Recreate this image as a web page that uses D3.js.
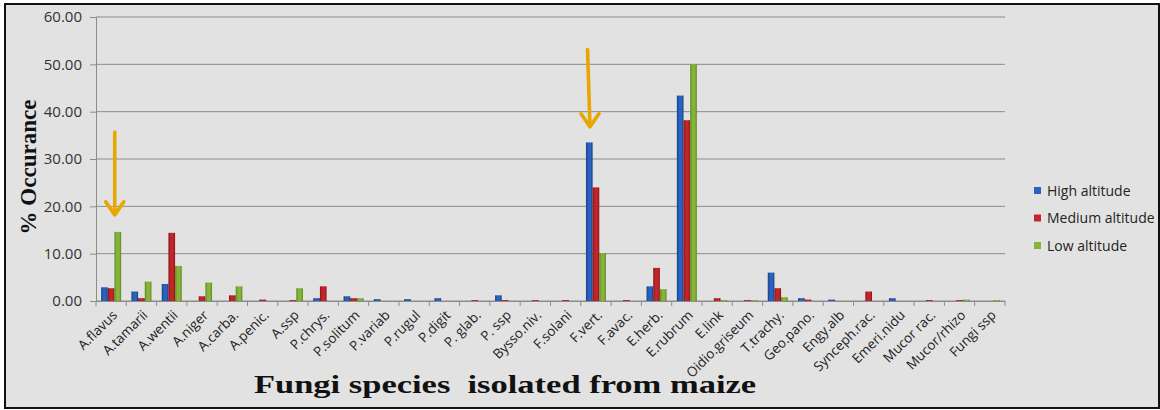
<!DOCTYPE html>
<html>
<head>
<meta charset="utf-8">
<script src="https://cdn.jsdelivr.net/npm/d3@7"></script>
<style>
  html, body { margin: 0; padding: 0; background: #fff; }
  svg { display: block; }
</style>
</head>
<body>
<div id="chart"></div>
<script>
const categories = ['A.flavus', 'A.tamarii', 'A.wentii', 'A.niger', 'A.carba.', 'A.penic.', 'A.ssp', 'P.chrys.',
  'P.solitum', 'P.variab', 'P.rugul', 'P.digit', 'P. glab.', 'P. ssp', 'Bysso.niv.', 'F.solani', 'F.vert.',
  'F.avac.', 'E.herb.', 'E.rubrum', 'E.link', 'Oidio.griseum', 'T.trachy.', 'Geo.pano.', 'Engy.alb',
  'Synceph.rac.', 'Emeri.nidu', 'Mucor rac.', 'Mucor/rhizo', 'Fungi ssp'];

const highAltitude = [2.9, 2.0, 3.6, 0, 0, 0, 0, 0.6, 1.0, 0.4, 0.4, 0.6, 0, 1.2, 0, 0, 33.5,
  0, 3.1, 43.4, 0, 0, 6.0, 0.6, 0.3, 0, 0.6, 0, 0, 0];
const mediumAltitude = [2.7, 0.6, 14.4, 1.0, 1.2, 0.3, 0.2, 3.1, 0.6, 0, 0, 0, 0.2, 0.2, 0.2, 0.2, 24.0,
  0.2, 7.0, 38.2, 0.6, 0.2, 2.7, 0.3, 0, 2.0, 0, 0.2, 0.2, 0];
const lowAltitude = [14.6, 4.1, 7.4, 3.9, 3.1, 0, 2.7, 0, 0.6, 0, 0, 0, 0, 0, 0, 0, 10.1,
  0, 2.5, 50.0, 0.2, 0.2, 0.8, 0, 0, 0, 0, 0, 0.3, 0.2];

const seriesNames = ['High altitude', 'Medium altitude', 'Low altitude'];
const yTicks = [0, 10, 20, 30, 40, 50, 60];

// arrows in the picture: category, value at tail, value at tip
const arrowNotes = [
  { category: 'A.flavus', from: 35.7, to: 18.2, dxFrom: 0.68, dxTo: 0.68 },
  { category: 'F.vert.', from: 53.1, to: 36.8, dxFrom: 0.08, dxTo: 0.2 }
];

const width = 1160, height = 410;
const margin = { top: 17, right: 155, bottom: 109, left: 96 };
const colors = ['#2a62bd', '#c2262a', '#86b439'];
const edgeColors = ['#16418a', '#8a1418', '#5c8a24'];

const svg = d3.select('#chart').append('svg')
  .attr('width', width)
  .attr('height', height);

const defs = svg.append('defs');
colors.forEach((c, i) => {
  const g = defs.append('linearGradient').attr('id', 'grad' + i)
    .attr('x1', '0%').attr('x2', '100%').attr('y1', '0%').attr('y2', '0%');
  g.append('stop').attr('offset', '0%').attr('stop-color', edgeColors[i]);
  g.append('stop').attr('offset', '35%').attr('stop-color', c);
  g.append('stop').attr('offset', '70%').attr('stop-color', c);
  g.append('stop').attr('offset', '100%').attr('stop-color', edgeColors[i]);
});

// background and frame
svg.append('rect')
  .attr('x', 5).attr('y', 4)
  .attr('width', width - 6).attr('height', height - 6)
  .attr('fill', '#e2e2e2')
  .attr('stroke', '#111')
  .attr('stroke-width', 2);

const plotW = 1005 - margin.left;
const plotH = 301 - margin.top;

const plot = svg.append('g')
  .attr('transform', `translate(${margin.left},${margin.top})`);

const x = d3.scaleBand()
  .domain(categories)
  .range([0, plotW])
  .paddingInner(0.34)
  .paddingOuter(0.17);

const xSub = d3.scaleBand()
  .domain(seriesNames)
  .range([0, x.bandwidth()]);

const y = d3.scaleLinear()
  .domain([0, 60])
  .range([plotH, 0]);

// gridlines
plot.append('g')
  .selectAll('line')
  .data(yTicks)
  .join('line')
  .attr('x1', 0).attr('x2', plotW)
  .attr('y1', d => y(d)).attr('y2', d => y(d))
  .attr('stroke', '#8c8c8c')
  .attr('stroke-width', 1);

// y axis
const yAxis = plot.append('g')
  .call(d3.axisLeft(y).tickValues(yTicks).tickFormat(d3.format('.2f')).tickSize(6).tickPadding(8));
yAxis.select('.domain').attr('stroke', '#8c8c8c');
yAxis.selectAll('.tick line').attr('stroke', '#8c8c8c');
yAxis.selectAll('.tick text')
  .attr('fill', '#333')
  .style('font-family', '"Open Sans", sans-serif')
  .style('font-size', '15px');

// bars
const seriesData = [highAltitude, mediumAltitude, lowAltitude];
const groups = plot.append('g')
  .selectAll('g')
  .data(categories)
  .join('g')
  .attr('transform', d => `translate(${x(d)},0)`);

groups.selectAll('rect')
  .data((c, ci) => seriesNames.map((s, si) => ({ s, si, v: seriesData[si][ci] })))
  .join('rect')
  .attr('x', d => xSub(d.s))
  .attr('width', xSub.bandwidth())
  .attr('y', d => y(d.v))
  .attr('height', d => y(0) - y(d.v))
  .attr('fill', d => `url(#grad${d.si})`);

// x axis
const step = x.step();
const xAxis = plot.append('g')
  .attr('transform', `translate(0,${plotH})`)
  .call(d3.axisBottom(x).tickSize(0).tickPadding(0));
xAxis.select('.domain').attr('stroke', '#8c8c8c');
// ticks between categories
xAxis.append('g')
  .selectAll('line')
  .data(d3.range(categories.length + 1))
  .join('line')
  .attr('x1', i => i * step).attr('x2', i => i * step)
  .attr('y1', 0).attr('y2', 5)
  .attr('stroke', '#8c8c8c');
xAxis.selectAll('.tick text')
  .attr('fill', '#222')
  .style('font-family', '"Open Sans", sans-serif')
  .style('font-size', '13.5px')
  .attr('text-anchor', 'end')
  .attr('dy', 0)
  .attr('y', 0)
  .attr('transform', 'translate(7,15) rotate(-45)');

// arrows
const arrowColor = '#e8a600';
arrowNotes.forEach(a => {
  const x0 = x(a.category) + a.dxFrom * x.bandwidth();
  const x1 = x(a.category) + a.dxTo * x.bandwidth();
  const y0 = y(a.from), y1 = y(a.to);
  const g = plot.append('g')
    .attr('stroke', arrowColor)
    .attr('stroke-width', 3.6)
    .attr('fill', 'none')
    .attr('stroke-linecap', 'round')
    .attr('stroke-linejoin', 'round');
  g.append('line').attr('x1', x0).attr('y1', y0).attr('x2', x1).attr('y2', y1 - 1);
  g.append('path')
    .attr('d', `M${x1 - 9},${y1 - 13} L${x1},${y1} L${x1 + 9},${y1 - 13}`);
});

// axis titles (the source picture is stretched sideways)
svg.append('text')
  .attr('transform', 'translate(505,393) scale(1.38,1)')
  .attr('text-anchor', 'middle')
  .style('font-family', '"Liberation Serif", "Times New Roman", serif')
  .style('font-weight', 'bold')
  .style('font-size', '25px')
  .attr('fill', '#111')
  .attr('xml:space', 'preserve')
  .text('Fungi species  isolated from maize');

svg.append('text')
  .attr('transform', 'translate(36,167) rotate(-90)')
  .attr('text-anchor', 'middle')
  .style('font-family', '"Liberation Serif", "Times New Roman", serif')
  .style('font-weight', 'bold')
  .style('font-size', '23px')
  .attr('fill', '#111')
  .text('% Occurance');

// legend
const legend = svg.append('g')
  .attr('transform', 'translate(1034,191)');
const li = legend.selectAll('g')
  .data(seriesNames)
  .join('g')
  .attr('transform', (d, i) => `translate(0,${i * 27.5})`);
li.append('rect')
  .attr('x', 0).attr('y', -4)
  .attr('width', 7).attr('height', 7)
  .attr('fill', (d, i) => colors[i]);
li.append('text')
  .attr('x', 13).attr('y', 0)
  .attr('dy', '0.35em')
  .attr('fill', '#222')
  .style('font-family', '"Open Sans", sans-serif')
  .style('font-size', '14px')
  .text(d => d);
</script>
</body>
</html>
